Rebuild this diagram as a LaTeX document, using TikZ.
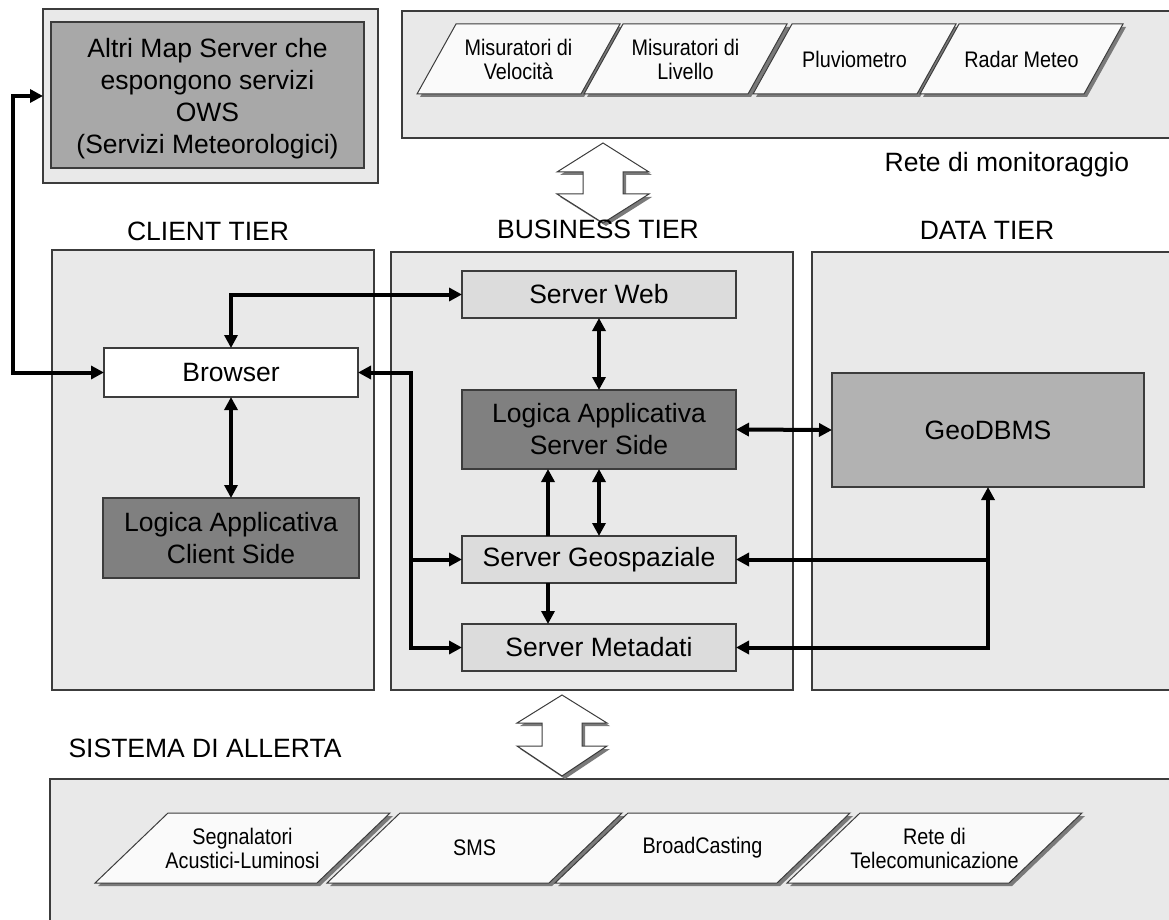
\documentclass[tikz,border=0pt]{standalone}
\usepackage{fontspec}
\setmainfont{Liberation Sans}
\newfontfamily\narrowsans[FakeStretch=0.88]{Liberation Sans}
\usetikzlibrary{arrows.meta}
\definecolor{colfill}{HTML}{E9E9E9}
\definecolor{bordercol}{HTML}{3C3C3C}
\definecolor{lightbox}{HTML}{DCDCDC}
\definecolor{darkbox}{HTML}{808080}
\definecolor{dbbox}{HTML}{B2B2B2}
\definecolor{owsbox}{HTML}{A8A8A8}
\definecolor{parafill}{HTML}{FAFAFA}
\definecolor{shadowcol}{HTML}{7A7A7A}
\newcommand\mypara[7]{%
  \fill[shadowcol] ({#2+3},{#3+#6+3}) -- ({#2+#4+3},{#3+#6+3}) -- ({#2+#4+#5+3},{#3+3}) -- ({#2+#5+3},{#3+3}) -- cycle;
  \filldraw[parashape] ({#2},{#3+#6}) -- ({#2+#4},{#3+#6}) -- ({#2+#4+#5},{#3}) -- ({#2+#5},{#3}) -- cycle;
  \node[paratext] (#1) at ({#2+#4/2+#5/2},{#3+#6/2}) {#7};
}
\begin{document}
\begin{tikzpicture}[x=1pt,y=-1pt,
  col/.style={draw=bordercol, line width=1.2pt, fill=colfill, inner sep=0pt, outer sep=0pt},
  box/.style={draw=bordercol, line width=1.2pt, inner sep=0pt, outer sep=0pt, align=center,
              font=\fontsize{26.5}{32}\selectfont},
  lbl/.style={inner sep=0pt, font=\fontsize{26.5}{32}\selectfont},
  parashape/.style={draw=bordercol, line width=1pt, fill=parafill},
  paratext/.style={inner sep=0pt, align=center, font=\narrowsans\fontsize{22.5}{24}\selectfont},
  conn/.style={line width=4pt, black, line join=miter,
               >={Triangle[length=13pt,width=13pt]}},
  bigarrow/.style={draw=bordercol, line width=1pt, fill=white, line join=miter},
  arrowshadow/.style={fill=shadowcol}
]
\useasboundingbox (0,0) rectangle (1169,920);
\clip (0,0) rectangle (1169,920);

% ---------- containers ----------
\node[col, minimum width=335, minimum height=174] (owsouter) at (210.5,96) {};
\node[box, fill=owsbox, minimum width=313, minimum height=146] (ows) at (207.5,95) {};
\node[inner sep=0pt, align=center, font=\fontsize{26.5}{32}\selectfont] (owstext) at (207.5,99)
  {Altri Map Server che\\espongono servizi\\OWS\\(Servizi Meteorologici)};
\node[col, minimum width=773, minimum height=127] (monitor) at (788.5,74.5) {};
\node[col, minimum width=322, minimum height=440] (client) at (213,470) {};
\node[col, minimum width=402, minimum height=438] (business) at (592,471) {};
\node[col, minimum width=363, minimum height=438] (data) at (993.5,471) {};
\node[col, minimum width=1125, minimum height=146] (alert) at (612.5,852) {};

% ---------- parallelograms ----------
\mypara{mv}{417}{24}{164}{39}{70}{Misuratori di\\Velocità}
\mypara{ml}{584}{24}{164}{39}{70}{Misuratori di\\Livello}
\mypara{pl}{753}{24}{164}{39}{70}{Pluviometro}
\mypara{rm}{920}{24}{164}{39}{70}{Radar Meteo}
\mypara{sa}{95}{813}{222}{73}{70}{Segnalatori\\Acustici-Luminosi}
\mypara{sms}{327}{813}{222}{73}{70}{SMS}
\mypara{bc}{555}{813}{222}{73}{70}{BroadCasting}
\mypara{tc}{787}{813}{222}{73}{70}{Rete di\\Telecomunicazione}

% ---------- big double arrows ----------
\fill[arrowshadow, shift={(3,3)}] (603,143) -- (649,172) -- (623,172) -- (623,194) -- (649,194) -- (603,223)
  -- (557,194) -- (583,194) -- (583,172) -- (557,172) -- cycle;
\draw[bigarrow] (603,143) -- (649,172) -- (623,172) -- (623,194) -- (649,194) -- (603,223)
  -- (557,194) -- (583,194) -- (583,172) -- (557,172) -- cycle;
\fill[arrowshadow, shift={(3,3)}] (562,695) -- (607,723) -- (582,723) -- (582,746) -- (607,746) -- (562,776)
  -- (517,746) -- (542,746) -- (542,723) -- (517,723) -- cycle;
\draw[bigarrow] (562,695) -- (607,723) -- (582,723) -- (582,746) -- (607,746) -- (562,776)
  -- (517,746) -- (542,746) -- (542,723) -- (517,723) -- cycle;

% ---------- labels ----------
\node[lbl] (lclient) at (208,231) {CLIENT TIER};
\node[lbl] (lbusiness) at (598,229) {BUSINESS TIER};
\node[lbl] (ldata) at (987,230) {DATA TIER};
\node[lbl] (lmonitor) at (1007,165) {Rete di monitoraggio};
\node[lbl] (lalert) at (205,748) {SISTEMA DI ALLERTA};

% ---------- boxes ----------
\node[box, fill=white, minimum width=254, minimum height=49] (browser) at (231,372.5) {Browser};
\node[box, fill=darkbox, minimum width=256, minimum height=80] (logicc) at (231,538)
  {Logica Applicativa\\Client Side};
\node[box, fill=lightbox, minimum width=274, minimum height=47] (serverweb) at (599,294.5) {Server Web};
\node[box, fill=darkbox, minimum width=274, minimum height=79] (logics) at (599,429.5)
  {Logica Applicativa\\Server Side};
\node[box, fill=lightbox, minimum width=274, minimum height=47] (geo) at (599,559.5) {Server Geospaziale};
\node[box, fill=lightbox, minimum width=274, minimum height=47] (meta) at (599,647.5) {Server Metadati};
\node[box, fill=dbbox, minimum width=312, minimum height=114] (geodbms) at (988,430) {GeoDBMS};

% ---------- connectors ----------
\coordinate (lft) at (13,0);
\coordinate (bj) at (411,0);
\coordinate (gx) at (548,0);
\draw[conn,<->] (browser.west) -| (lft |- owsouter.west) -- (owsouter.west);
\draw[conn,<->] (browser.north) |- (serverweb.west);
\draw[conn,<->] (browser.south) -- (logicc.north);
\draw[conn,<->] (browser.east) -| (bj |- meta.west) -- (meta.west);
\draw[conn,->] (bj |- geo.west) -- (geo.west);
\draw[conn,<->] (serverweb.south) -- (logics.north);
\draw[conn,<->] (logics.east) -- (geodbms.west);
\draw[conn,->] (gx |- geo.north) -- (gx |- logics.south);
\draw[conn,<->] (logics.south) -- (geo.north);
\draw[conn,->] (gx |- geo.south) -- (gx |- meta.north);
\draw[conn,<->] (geodbms.south) |- (meta.east);
\draw[conn,->] (geodbms.south |- geo.east) -- (geo.east);
\end{tikzpicture}
\end{document}
